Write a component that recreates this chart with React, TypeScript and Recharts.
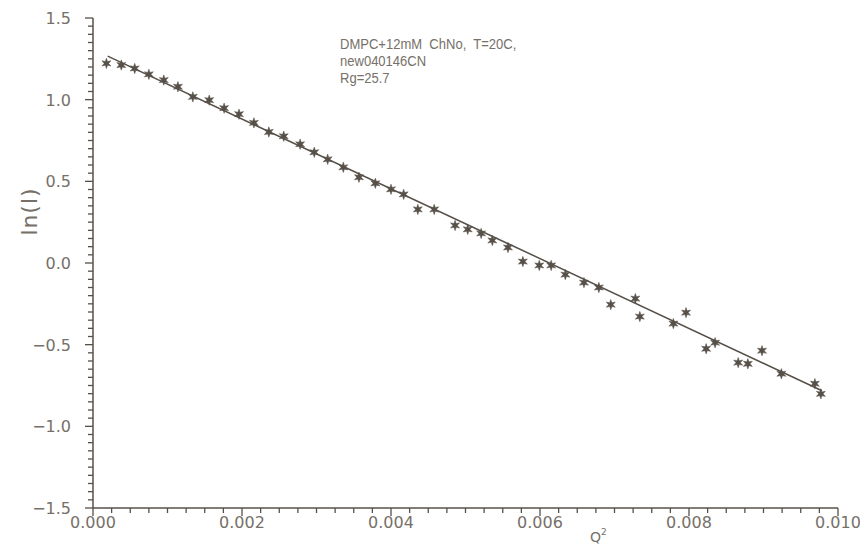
import React from "react";
import { ComposedChart, Line, Scatter, XAxis, YAxis } from "recharts";

// Measured data: Q^2 vs ln(I)
const Q2 = [
  0.00018, 0.00038, 0.00056, 0.00075, 0.00095, 0.00114, 0.00134, 0.00156, 0.00176, 0.00196,
  0.00216, 0.00236, 0.00256, 0.00278, 0.00297, 0.00315, 0.00336, 0.00357, 0.00379, 0.004,
  0.00417, 0.00436, 0.00458, 0.00486, 0.00503, 0.00521, 0.00536, 0.00557, 0.00577, 0.00599,
  0.00615, 0.00634, 0.00659, 0.00679, 0.00695, 0.00728, 0.00734, 0.00779, 0.00796, 0.00823,
  0.00835, 0.00866, 0.00879, 0.00898, 0.00924, 0.00969, 0.00977,
];
const LN_I = [
  1.222, 1.212, 1.191, 1.155, 1.12, 1.079, 1.017, 0.997, 0.948, 0.911,
  0.858, 0.802, 0.776, 0.727, 0.678, 0.635, 0.586, 0.525, 0.488, 0.451,
  0.42, 0.328, 0.328, 0.23, 0.206, 0.181, 0.138, 0.095, 0.009, -0.015,
  -0.015, -0.071, -0.12, -0.15, -0.255, -0.218, -0.328, -0.371, -0.304, -0.525,
  -0.488, -0.61, -0.617, -0.537, -0.678, -0.739, -0.801,
];

// Guinier fit line
const FIT_Q2 = [0.000197, 0.009785];
const FIT_LN = [1.267, -0.782];

// Axis ticks
const X_MAJOR = [0, 0.002, 0.004, 0.006, 0.008, 0.01];
const X_MINOR_STEP = 0.00025;
const Y_MAJOR = [-1.5, -1.0, -0.5, 0.0, 0.5, 1.0, 1.5];
const Y_MINOR_STEP = 0.05;

const ANNOTATION = ["DMPC+12mM  ChNo,  T=20C,", "new040146CN", "Rg=25.7"];

const X_TICKS = Array.from({ length: 41 }, (_, i) => +(i * X_MINOR_STEP).toFixed(6));
const Y_TICKS = Array.from({ length: 61 }, (_, i) => +(-1.5 + i * Y_MINOR_STEP).toFixed(4));

const points = Q2.map((q, i) => ({ x: q, y: LN_I[i] }));
const fit = FIT_Q2.map((q, i) => ({ x: q, y: FIT_LN[i] }));

const INK = "#575049";
const TEXT = "#767069";
const FONT = "'DejaVu Sans', Verdana, sans-serif";
const NOTE_FONT = "'Liberation Sans', Arial, sans-serif";

const isMajor = (v: number, majors: number[]) => majors.some((m) => Math.abs(m - v) < 1e-9);
const fmt = (v: number, d: number) => {
  const s = Math.abs(v).toFixed(d);
  return v < -1e-9 ? "\u2212" + s : s;
};

const XTick = (props: any) => {
  const { x, y, payload } = props;
  const v = payload.value as number;
  const major = isMajor(v, X_MAJOR);
  return (
    <g>
      <line x1={x} x2={x} y1={y} y2={y + (major ? 8 : 5)} stroke={INK} strokeWidth={1.3} />
      {major && (
        <text x={x} y={y + 20} textAnchor="middle" fill={TEXT} fontSize={16} fontFamily={FONT}>
          {fmt(v, 3)}
        </text>
      )}
    </g>
  );
};

const YTick = (props: any) => {
  const { x, y, payload } = props;
  const v = payload.value as number;
  const major = isMajor(v, Y_MAJOR);
  return (
    <g>
      <line x1={x} x2={x - (major ? 8 : 5)} y1={y} y2={y} stroke={INK} strokeWidth={1.3} />
      {major && (
        <text x={x - 22} y={y + 6} textAnchor="end" fill={TEXT} fontSize={16} fontFamily={FONT}>
          {fmt(v, 1)}
        </text>
      )}
    </g>
  );
};

const Star = (props: any) => {
  const { cx, cy } = props;
  if (cx == null || cy == null) return null;
  const pts: string[] = [];
  for (let k = 0; k < 12; k++) {
    const r = k % 2 === 0 ? 5.2 : 2.2;
    const a = (Math.PI / 6) * k - Math.PI / 2;
    pts.push(`${cx + r * Math.cos(a)},${cy + r * Math.sin(a)}`);
  }
  return <polygon points={pts.join(" ")} fill={INK} stroke={INK} strokeWidth={0.5} />;
};

const XLabel = (props: any) => {
  const { viewBox } = props;
  const x = viewBox.x + viewBox.width * 0.667;
  const y = viewBox.y + 34;
  return (
    <text x={x} y={y} fill={TEXT} fontSize={14} fontFamily={FONT}>
      Q<tspan fontSize={9} dy={-7}>2</tspan>
    </text>
  );
};

const YLabel = (props: any) => {
  const { viewBox } = props;
  const cx = 30;
  const cy = viewBox.y + viewBox.height * 0.395;
  return (
    <text
      x={cx}
      y={cy}
      transform={`rotate(-90 ${cx} ${cy})`}
      textAnchor="middle"
      dominantBaseline="central"
      fill={TEXT}
      fontSize={22}
      fontFamily={FONT}
      letterSpacing={0.8}
    >
      ln(I)
    </text>
  );
};

export default function App() {
  return (
    <div style={{ position: "absolute", left: 0, top: 0, width: 860, height: 545, background: "#fff" }}>
      <ComposedChart width={860} height={545} margin={{ top: 18, right: 22, left: 33, bottom: 7 }}>
        <XAxis
          type="number"
          dataKey="x"
          domain={[0, 0.01]}
          ticks={X_TICKS}
          interval={0}
          tickSize={0}
          tickMargin={0}
          tickLine={false}
          tick={<XTick />}
          height={30}
          axisLine={{ stroke: INK, strokeWidth: 1.5 }}
          allowDataOverflow
          label={{ content: <XLabel /> }}
        />
        <YAxis
          type="number"
          dataKey="y"
          domain={[-1.5, 1.5]}
          ticks={Y_TICKS}
          interval={0}
          tickSize={0}
          tickMargin={0}
          tickLine={false}
          tick={<YTick />}
          width={60}
          axisLine={{ stroke: INK, strokeWidth: 1.5 }}
          allowDataOverflow
          label={{ content: <YLabel /> }}
        />
        <Line
          data={fit}
          dataKey="y"
          stroke={INK}
          strokeWidth={1.5}
          dot={false}
          activeDot={false}
          isAnimationActive={false}
          legendType="none"
        />
        <Scatter data={points} dataKey="y" shape={<Star />} isAnimationActive={false} />
      </ComposedChart>
      <div
        style={{
          position: "absolute",
          left: 340,
          top: 35,
          fontFamily: NOTE_FONT,
          fontSize: 15.5,
          lineHeight: "17px",
          color: TEXT,
          whiteSpace: "pre",
          transform: "scaleX(0.84)",
          transformOrigin: "left top",
        }}
      >
        {ANNOTATION.map((t, i) => (
          <div key={i}>{t}</div>
        ))}
      </div>
    </div>
  );
}
